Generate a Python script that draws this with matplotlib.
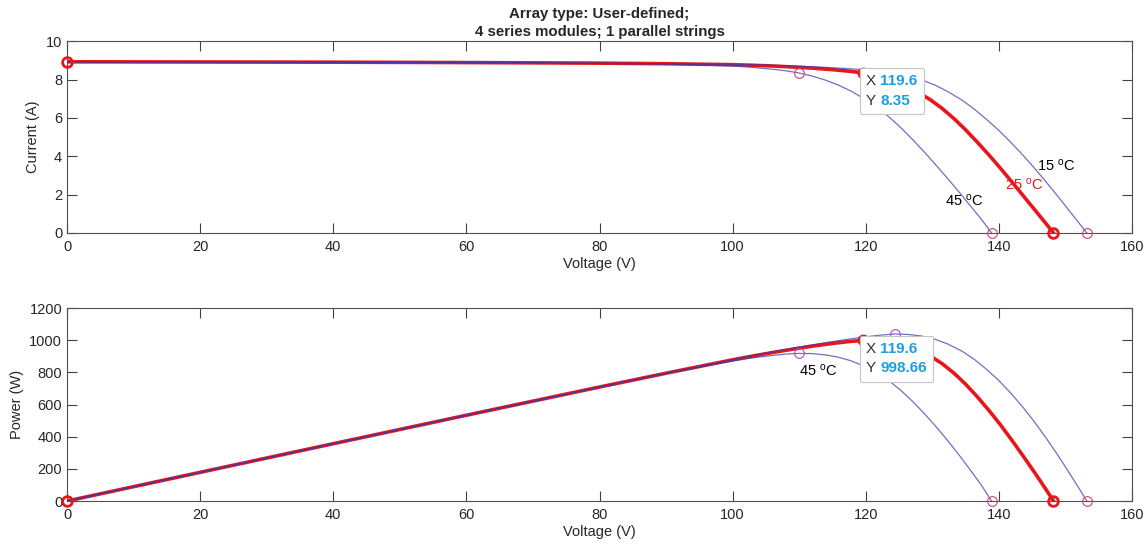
import matplotlib
matplotlib.use("Agg")
import matplotlib.pyplot as plt
import numpy as np
from matplotlib.offsetbox import TextArea, HPacker, VPacker, AnnotationBbox

plt.rcParams['font.family'] = ['Liberation Sans', 'DejaVu Sans']
plt.rcParams['mathtext.default'] = 'regular'

# --- data ---
# 25 C (thick red)
V25 = [0, 20, 40, 60, 80, 90, 100, 103, 106, 109, 112, 115, 117.5, 119.6, 121.5, 123.5,
       125.5, 127.5, 129.7, 131.5, 133.3, 135, 136.8, 138.5, 140.2, 142, 143.8, 145.5,
       147, 148.2]
I25 = [8.93, 8.92, 8.91, 8.89, 8.86, 8.83, 8.78, 8.75, 8.71, 8.66, 8.60, 8.52, 8.44, 8.35,
       8.21, 8.01, 7.76, 7.42, 6.95, 6.49, 5.95, 5.38, 4.72, 4.07, 3.39, 2.64, 1.88, 1.16,
       0.52, 0]
P25 = [0, 178.4, 356.4, 533.4, 708.8, 794.7, 878.0, 901.3, 923.3, 943.9, 963.2, 979.8,
       991.7, 998.66, 997.5, 989.2, 973.9, 946.1, 901.4, 853.4, 793.1, 726.3, 645.7, 563.7,
       475.3, 374.9, 270.3, 168.8, 76.4, 0]

# 15 C (thin)
V15 = [0, 20, 40, 60, 80, 90, 100, 105, 110, 114, 117, 120, 122.2, 124.4, 126.3, 128.3,
       130.3, 132.3, 134.5, 136.3, 138.1, 139.9, 141.7, 143.5, 145.3, 147.0, 148.7, 150.3,
       151.8, 153.2]
I15 = [8.93, 8.92, 8.91, 8.89, 8.86, 8.83, 8.79, 8.76, 8.70, 8.64, 8.58, 8.51, 8.44, 8.35,
       8.20, 8.00, 7.73, 7.38, 6.92, 6.46, 5.94, 5.38, 4.76, 4.10, 3.40, 2.70, 1.98, 1.28,
       0.62, 0]
P15 = [0, 178.4, 356.4, 533.4, 708.8, 794.7, 879.0, 919.8, 957.0, 985.0, 1003.9, 1021.2,
       1031.4, 1038.7, 1035.7, 1026.4, 1007.2, 976.4, 930.7, 880.5, 820.3, 752.7, 674.5,
       588.4, 494.0, 396.9, 294.4, 192.4, 94.1, 0]

# 45 C (thin)
V45 = [0, 20, 40, 60, 80, 90, 95, 100, 103, 106, 108, 109.9, 111.8, 113.8, 115.8, 117.8,
       120, 121.8, 123.6, 125.3, 127.1, 128.8, 130.5, 132.3, 134.1, 135.8, 137.4, 138.9]
I45 = [8.93, 8.92, 8.91, 8.89, 8.85, 8.81, 8.77, 8.71, 8.64, 8.54, 8.46, 8.35, 8.20, 7.99,
       7.73, 7.40, 6.95, 6.52, 6.02, 5.48, 4.85, 4.22, 3.56, 2.84, 2.10, 1.38, 0.70, 0]
P45 = [0, 178.4, 356.4, 533.4, 708.0, 792.9, 833.2, 871.0, 889.9, 905.2, 913.7, 917.7,
       916.8, 909.3, 895.1, 871.7, 834.0, 794.1, 744.1, 686.6, 616.4, 543.5, 464.6, 375.7,
       281.6, 187.4, 96.2, 0]

x_ticks = [0, 20, 40, 60, 80, 100, 120, 140, 160]
i_ticks = [0, 2, 4, 6, 8, 10]
p_ticks = [0, 200, 400, 600, 800, 1000, 1200]

red = '#e8161b'
thin = '#3838b0'
pink = '#d8406a'
dark = '#262626'
tip_blue = '#1c9ee0'

fig = plt.figure(figsize=(11.48, 5.44), dpi=100)
ax1 = fig.add_axes([0.0584, 0.5717, 0.9277, 0.3524])
ax2 = fig.add_axes([0.0584, 0.0790, 0.9277, 0.3548])


def style(ax, yticks, ylabel):
    ax.set_xlim(0, 160)
    ax.set_ylim(yticks[0], yticks[-1])
    ax.set_xticks(x_ticks)
    ax.set_yticks(yticks)
    ax.tick_params(direction='in', top=True, right=True, length=7, width=0.8,
                   colors='#404040', labelsize=10.5, labelcolor=dark)
    ax.tick_params(axis='x', pad=5)
    for s in ax.spines.values():
        s.set_color('#505050')
        s.set_linewidth(0.8)
    ax.set_xlabel('Voltage (V)', fontsize=10.5, color=dark, labelpad=2)
    ax.set_ylabel(ylabel, fontsize=10.5, color=dark, labelpad=4)


def datatip(ax, x, y, ytxt):
    def row(k, v):
        return HPacker(children=[TextArea(k, textprops=dict(color='#333333', size=11)),
                                 TextArea(v, textprops=dict(color=tip_blue, size=11,
                                                            weight='bold'))],
                       sep=3, align='baseline')
    box = VPacker(children=[row('X', '%.1f' % x), row('Y', ytxt)], sep=4, align='left', pad=0)
    ab = AnnotationBbox(box, (x, y), xybox=(2, -1), xycoords='data', boxcoords='offset points',
                        box_alignment=(0, 1), frameon=True, pad=0.45,
                        bboxprops=dict(boxstyle='round,pad=0.45,rounding_size=0.15',
                                       fc='white', ec='#c4c4c4', lw=0.8), zorder=10)
    ax.add_artist(ab)


for ax, ys in [(ax1, (I25, I15, I45)), (ax2, (P25, P15, P45))]:
    ax.plot(V25, ys[0], color=red, lw=2.6, zorder=2)
    ax.plot(V15, ys[1], color=thin, lw=0.9, alpha=0.72, zorder=3)
    ax.plot(V45, ys[2], color=thin, lw=0.9, alpha=0.72, zorder=3)

for V, I, P in [(V15, I15, P15), (V45, I45, P45)]:
    k = int(np.argmax(P))
    ax1.plot(V[k], I[k], 'o', mfc='none', mec=pink, ms=7, mew=0.8, zorder=4)
    ax2.plot(V[k], P[k], 'o', mfc='none', mec='#c048b8', ms=7, mew=0.8, zorder=4)
    ax1.plot(V[-1], I[-1], 'o', mfc='none', mec=pink, ms=7, mew=0.8, zorder=4, clip_on=False)
    ax2.plot(V[-1], P[-1], 'o', mfc='none', mec=pink, ms=7, mew=0.8, zorder=4, clip_on=False)

# thick red end markers
ax1.plot([V25[0], V25[-1]], [I25[0], I25[-1]], 'o', mfc='none', mec=red, ms=7, mew=2,
         ls='none', zorder=5, clip_on=False)
ax2.plot([V25[0], V25[-1]], [P25[0], P25[-1]], 'o', mfc='none', mec=red, ms=7, mew=2,
         ls='none', zorder=5, clip_on=False)

# MPP for 25 C (datatip)
k = int(np.argmax(P25))
for ax, y in [(ax1, I25[k]), (ax2, P25[k])]:
    ax.plot(V25[k], y, 'o', mfc='none', mec=red, ms=7, mew=1.5, zorder=6)
    ax.plot(V25[k], y, 'o', color='black', ms=3.5, zorder=7)
datatip(ax1, V25[k], I25[k], '%.2f' % I25[k])
datatip(ax2, V25[k], P25[k], '%.2f' % P25[k])

# temperature labels
ax1.text(145.7, 3.5, '15 $^{o}$C', fontsize=10.5, color='black', va='center')
ax1.text(140.9, 2.55, '25 $^{o}$C', fontsize=10.5, color=red, va='center')
ax1.text(131.9, 1.67, '45 $^{o}$C', fontsize=10.5, color='black', va='center')
ax2.text(109.9, 808, '45 $^{o}$C', fontsize=10.5, color='black', va='center')

style(ax1, i_ticks, 'Current (A)')
style(ax2, p_ticks, 'Power (W)')

ax1.set_title('Array type: User-defined;\n4 series modules; 1 parallel strings',
              fontsize=10.8, fontweight='bold', color=dark, pad=4, linespacing=1.3)

fig.savefig('out.png', dpi=100)
